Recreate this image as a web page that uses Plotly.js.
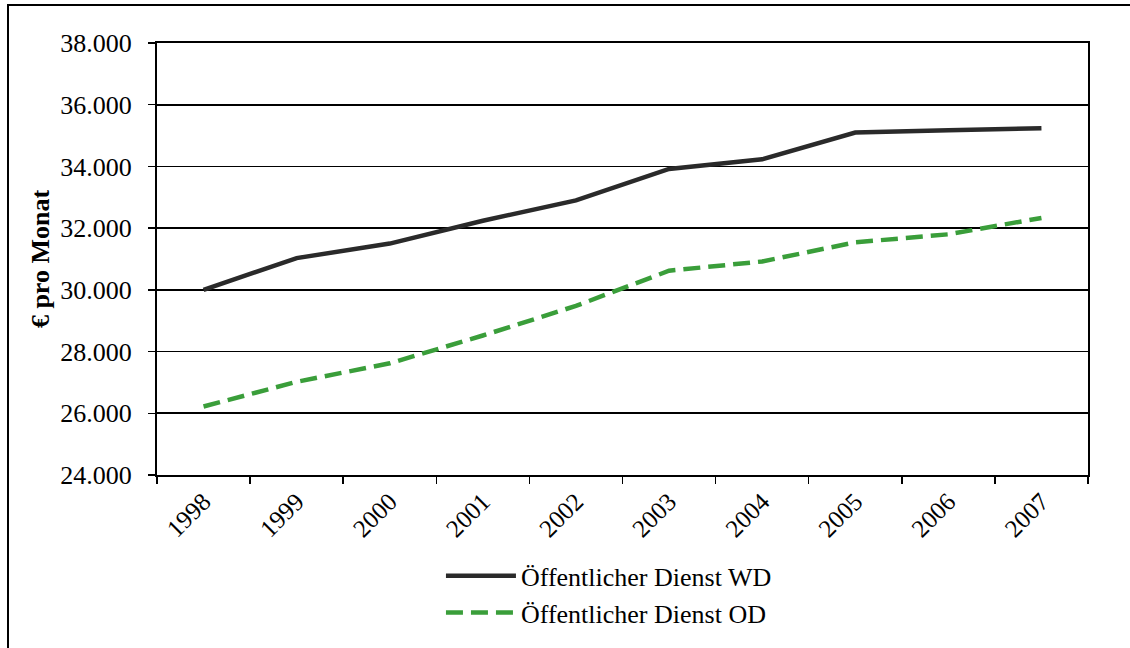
<!DOCTYPE html>
<html>
<head>
<meta charset="utf-8">
<script src="https://cdn.plot.ly/plotly-3.0.1.min.js"></script>
<style>
  html, body { margin: 0; padding: 0; background: #fff; overflow: hidden; }
  #chart { width: 1130px; height: 648px; }
  #frame { position: absolute; left: 7px; top: 4px; width: 1300px; height: 800px; border-left: 2px solid #000; border-top: 2px solid #000; pointer-events: none; }
</style>
</head>
<body>
<div id="chart"></div>
<div id="frame"></div>
<script>
const years = ['1998','1999','2000','2001','2002','2003','2004','2005','2006','2007'];
const wdValues = [30000, 31030, 31500, 32240, 32900, 33920, 34230, 35100, 35170, 35240];
const odValues = [26220, 27020, 27620, 28520, 29480, 30620, 30920, 31540, 31800, 32330];
const seriesNames = ['Öffentlicher Dienst WD', 'Öffentlicher Dienst OD'];
const yTicks = [24000, 26000, 28000, 30000, 32000, 34000, 36000, 38000];

const font = 'Liberation Serif';

const traces = [
  { x: years, y: wdValues, name: seriesNames[0], type: 'scatter', mode: 'lines',
    line: { color: '#2a2a2a', width: 4.5 } },
  { x: years, y: odValues, name: seriesNames[1], type: 'scatter', mode: 'lines',
    line: { color: '#3a9e3a', width: 4.5, dash: '17px,8px' } }
];

const layout = {
  width: 1130, height: 648,
  margin: { l: 157, r: 42, t: 43, b: 170 },
  paper_bgcolor: '#fff', plot_bgcolor: '#fff',
  separators: ',.',
  font: { family: font, color: '#000', size: 26 },
  showlegend: true,
  legend: { x: 0.305, y: -0.179, xanchor: 'left', yanchor: 'top', orientation: 'v',
            font: { family: font, size: 26, color: '#000' }, itemwidth: 70,
            tracegroupgap: 0, bgcolor: 'rgba(0,0,0,0)' },
  xaxis: { type: 'category', range: [-0.5, 9.5], tickson: 'boundaries', ticks: 'outside', ticklen: 7, tickwidth: 1.5,
           tickcolor: '#000', tickangle: -45, showgrid: false, showline: true, linecolor: '#000',
           linewidth: 2, mirror: true, tickfont: { family: font, size: 25, color: '#000' },
           zeroline: false, fixedrange: true, automargin: false },
  yaxis: { range: [24000, 38000], tickvals: yTicks, tickformat: ',d', ticks: 'outside', ticklen: 7,
           tickwidth: 1.5, tickcolor: '#000', showgrid: true, gridcolor: '#000', gridwidth: 1.8,
           showline: true, linecolor: '#000', linewidth: 2, mirror: true, zeroline: false,
           ticklabelstandoff: 11,
           tickfont: { family: font, size: 26, color: '#000' },
           title: { text: '€ pro Monat', font: { family: font, size: 26, color: '#000', weight: 'bold' }, standoff: 3 },
           automargin: false, fixedrange: true }
};

Plotly.newPlot('chart', traces, layout, { displayModeBar: false, staticPlot: true });
</script>
</body>
</html>
